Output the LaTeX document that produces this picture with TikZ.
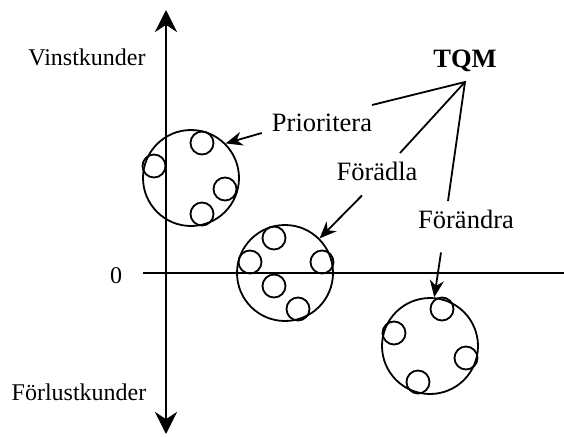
\documentclass[tikz,border=0pt]{standalone}
\usepackage{fontspec}
\setmainfont{Liberation Serif}
\usetikzlibrary{arrows.meta,positioning}

\begin{document}
\begin{tikzpicture}[x=1pt,y=-1pt,>=Stealth,
  segment/.style={draw,circle,line width=1.8pt,minimum size=96pt,inner sep=0pt},
  kund/.style={draw,circle,line width=1.8pt,minimum size=23pt,inner sep=0pt},
  lbl/.style={font=\fontsize{26.5}{30}\selectfont,inner sep=1pt,anchor=base},
  axlbl/.style={font=\fontsize{24}{28}\selectfont,inner sep=1pt,anchor=base},
  axis/.style={line width=2.8pt},
  pointer/.style={line width=1.8pt,-{Stealth[length=17pt,width=14pt]}}]
\useasboundingbox (0,0) rectangle (564,436);
% axes
\coordinate (ytop) at (166,10);
\coordinate (ybot) at (166,434);
\coordinate (xleft) at (143,273);
\coordinate (xright) at (564,273);
\draw[axis,{Stealth[length=22pt,width=22pt]}-{Stealth[length=22pt,width=22pt]}] (ybot) -- (ytop);
\draw[axis] (xleft) -- (xright);
\node[axlbl] (vinst) at (87,65) {Vinstkunder};
\node[axlbl] (noll) at (116,283) {0};
\node[axlbl] (forlust) at (79,400) {Förlustkunder};
% customer segments
\node[segment] (seg1) at (191,178) {};
\node[segment] (seg2) at (285,273) {};
\node[segment] (seg3) at (430,346) {};
\foreach \p/\n in {(202,143)/a,(154,166)/b,(225,189)/c,(202,214)/d}
  \node[kund] (k1\n) at \p {};
\foreach \p/\n in {(274,238)/a,(250,262)/b,(322,262)/c,(274,286)/d,(298,309)/e}
  \node[kund] (k2\n) at \p {};
\foreach \p/\n in {(442,309)/a,(394,333)/b,(466,358)/c,(418,382)/d}
  \node[kund] (k3\n) at \p {};
% strategies
\node[lbl] (prio) at (322,131) {Prioritera};
\node[lbl] (fora) at (377,180) {Förädla};
\node[lbl] (forn) at (466,228) {Förändra};
\node[lbl,font=\fontsize{26.5}{30}\selectfont\bfseries] (tqm) at (465,67) {TQM};
\draw[pointer] ([xshift=-9pt,yshift=-2pt]prio.base west) -- (seg1.45);
\draw[pointer] ([xshift=-15pt,yshift=-14pt]fora.south) -- (seg2.45);
\draw[pointer] ([xshift=-25pt,yshift=-23pt]forn.south) -- (seg3.85);
% TQM lines
\coordinate (hub) at (465,82);
\coordinate (tprio) at (372,105);
\coordinate (tfora) at (400,153);
\coordinate (tforn) at (448,201);
\draw[line width=1.8pt] (tprio) -- (hub) -- (tforn);
\draw[line width=1.8pt] (hub) -- (tfora);
\end{tikzpicture}
\end{document}
